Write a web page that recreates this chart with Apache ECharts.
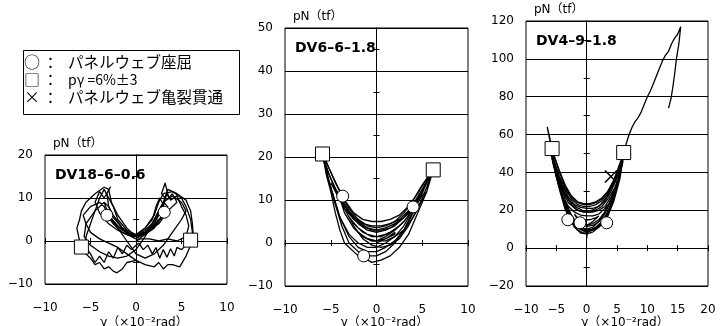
<!DOCTYPE html>
<html>
<head>
<meta charset="utf-8">
<script src="https://cdn.jsdelivr.net/npm/echarts@6/dist/echarts.min.js"></script>
<style>
  html, body { margin: 0; padding: 0; background: #fff; }
  #chart { width: 722px; height: 326px; }
</style>
</head>
<body>
<div id="chart"></div>
<script>
// ---- panel titles / labels ----
const panelNames = ['DV18\u20136\u20130.6', 'DV6\u20136\u20131.8', 'DV4\u20139\u20131.8'];
const yAxisName = 'pN\uFF08tf\uFF09';
const xAxisName = '\u03B3\uFF08\u00D710\u207B\u00B2rad\uFF09';
const legendSymbols = ['\u25CB', '\u25A1', '\u00D7'];
const legendTexts = ['パネルウェブ座屈', 'p\u03B3 =6%\u00B13', 'パネルウェブ亀裂貫通'];

// axis ranges: [min, max, label step]
const xRanges = [[-10, 10, 5], [-10, 10, 5], [-10, 20, 5]];
const yRanges = [[-10, 20, 10], [-10, 50, 10], [-20, 120, 20]];
const yZeroTicks = [5, 5, 10];

// ---- DV18-6-0.6 loops ----
const dv18Loop1 = [[0,0],[1,1.5],[2,3],[3,6],[2.5,5],[1.5,2.5],[0.5,1.2],[-0.5,1.2],[-1.5,2.5],[-2.5,4.5],[-3.3,6.3],[-2.5,4],[-1.5,2],[-0.5,1],[0,0.5]];
const dv18Loop2 = [[0,0.5],[1,2],[2,4],[2.5,6],[3,8],[3.2,10],[2.8,11],[3.2,13.5],[3.6,10],[4,11],[4.5,9],[3.5,7],[2.5,4],[1.5,2.5],[0.5,1.5],[-0.5,1.5],[-1.5,3],[-2.5,5.5],[-3,8],[-3.2,11],[-2.8,12.6],[-3.5,10],[-4,11.5],[-4.5,9],[-4,6.5],[-3,4],[-2,2.5],[-1,1.5],[0,1]];
const dv18Loop3 = [[0,1],[1,3],[2,6],[2.5,9],[3,11],[4,11.5],[5,10],[5.5,8],[6,5],[6.2,2],[6,0],[5.5,-1],[5,-2],[4.5,-1.5],[4.2,-3.5],[3.8,-1.8],[3.4,-3.8],[3,-2],[2.6,-4],[2.2,-1.5],[1.8,-3],[1.3,-1],[0.8,-2],[0.3,-0.5],[0,-1]];
const dv18Loop4 = [[0,-4.5],[1,-5.5],[2,-6],[2.5,-5],[3,-6.5],[3.5,-5.5],[4,-5.5],[4.8,-6],[5.5,-3.5],[6,-1],[6.3,1],[6.2,4],[6,7],[5.5,9.5],[4.5,11],[3.5,12],[3,9],[2.5,7],[1.8,4],[1,2],[0,1]];
const dv18Loop5 = [[0,1],[-1,3],[-2,6],[-2.7,9],[-3,12],[-3.5,12.5],[-4.5,11],[-5.5,9],[-6,7],[-6.2,5],[-6.5,3],[-6.2,0],[-6,-2.5],[-5.5,-3],[-5,-4],[-4.5,-5.5],[-4,-5],[-3.5,-6.5],[-3,-6],[-2.5,-7],[-2.1,-7.4],[-1.5,-6.5],[-1,-5],[0,-4.5]];
const dv18Loop6 = [[0,-4.5],[-1,-3],[-2,-1.5],[-3,-0.5],[-4,0.5],[-5,2],[-5.5,4],[-5.8,6],[-5,8],[-4,9],[-3.5,8],[-3,6],[-2,3],[-1,0],[0,-3],[1,-4],[2,-3],[3,-1],[4,2],[5,5],[5.5,7],[5,9],[4,10.5],[3,9],[2,5],[1,1],[0,-2],[-1,-3.5],[-2,-4],[-3,-3.5],[-4,-2.5],[-5,-1],[-5.7,1],[-5.5,4],[-4.5,7],[-3.5,9]];
const dv18Loop7 = [[0,1],[1,2.5],[2,4.5],[2.7,7],[3,9],[3.5,8],[3,6],[2,3.5],[1,2],[0,1.5],[-1,2],[-2,3.5],[-3,6],[-3.5,9],[-3,8],[-2.5,6],[-1.5,3],[-0.5,1.5],[0,1]];
const dv18Loop8 = [[0,-1],[-0.5,-2],[-1,-1],[-1.5,-3],[-2,-1.5],[-2.5,-4],[-3,-2.5],[-3.5,-5],[-4,-3.5],[-4.5,-5],[-5,-3],[-5.5,-1.5],[-5.5,1],[-5,4],[-4.5,7],[-4,10],[-3.5,12],[-3,10],[-2.5,8],[-2,5],[-1,2.5],[0,1.5]];
const dv18Loop9 = [[0,1.5],[1,3],[1.8,5],[2.2,8],[2.6,10],[3,8.5],[3.4,11],[3.8,9.5],[4.5,10.5],[5,8],[5.5,6],[5.8,3.5],[5.5,1],[4.5,0],[3.5,0.5],[2.5,0],[1.5,0.5],[0.5,0.5],[0,0]];
const dv18Loops = [dv18Loop1, dv18Loop2, dv18Loop3, dv18Loop4, dv18Loop5, dv18Loop6, dv18Loop7, dv18Loop8, dv18Loop9];
const dv18Circles = [[-3.2,6.0],[3.1,6.7]];
const dv18Squares = [[-6.0,-1.4],[6.0,0.2]];

// ---- DV6-6-1.8 loops ----
const dv6Loop1 = [[0,0],[1,1],[2,2.5],[2,2],[1,1],[0,0.5],[-1,1],[-2,2.5],[-1.5,1.5],[-0.5,0.5],[0,0.5]];
const dv6Loop2 = [[0,0.5],[1,1.5],[2,3],[3,5],[2.5,4],[1.5,2.5],[0.5,1.5],[-0.5,1.5],[-1.5,2.5],[-2.5,4.5],[-3,6],[-2,3.5],[-1,2],[0,1.5]];
const dv6Loop3 = [[0,1.5],[1,2],[2,3],[3,5],[4,8],[3.5,7],[2.5,5],[1.5,3.5],[0.5,3],[-0.5,3],[-1.5,4],[-2.5,5.5],[-3.5,8],[-4,10.5],[-3.5,7],[-2.5,3.5],[-1.5,1.5],[-0.5,0.5],[0,0.5]];
const dv6Loop4 = [[0,0.5],[1,0.5],[2,1.5],[3,3],[4,6],[5,10],[5.5,12],[5,11],[4,8],[3,6],[2,4.5],[1,3.5],[0,3],[-1,3.5],[-2,5],[-3,7.5],[-4,11],[-5,14],[-4.5,12],[-3.5,8],[-2.5,4],[-1.5,1],[-0.5,-0.5],[0.5,-1],[1.5,-0.5]];
const dv6Loop5 = [[1.5,-0.5],[2.5,1],[3.5,4],[4.5,8],[5.5,13],[6.2,17],[5.5,14],[4.5,10.5],[3.5,7.5],[2.5,5.5],[1.5,4.5],[0.5,4],[-0.5,4],[-1.5,4.5],[-2.5,6],[-3.5,8.5],[-4.5,12.5],[-5.3,16.5],[-5.9,20.7],[-5.5,16],[-5,12],[-4.5,7],[-4,3],[-3.5,0],[-2.5,-2],[-2,-3],[-1.4,-3.5],[-0.5,-4.5],[0.5,-4],[1.5,-3],[2.5,-1],[3.5,2],[4.5,7],[5.5,12],[6.2,17]];
const dv6Loop6 = [[6.2,17],[5.5,15],[4.5,11.5],[3.5,8.5],[2.5,6.5],[1.5,5.5],[0.5,5],[-0.5,5],[-1.5,5.5],[-2.5,7],[-3.5,10],[-4.5,14],[-5.5,19],[-5.9,20.7],[-5.2,14],[-4.5,9],[-3.8,4],[-3,0],[-2,-2],[-1,-3],[0,-3],[1,-2],[2,0],[3,3],[4,7.5],[5,12],[5.8,15.5]];
const dv6Loop7 = [[5.8,15.5],[5,12.5],[4,9],[3,6],[2,4],[1,3],[0,2.5],[-1,3],[-2,4.5],[-3,7],[-4,10.5],[-5,15],[-5.8,19.5],[-5,13],[-4,6],[-3,2],[-2,0],[-1,-1],[0,-1],[1,0],[2,1.5],[3,4],[4,8],[5,12.5],[6,16.5]];
const dv6Loop8 = [[6,16.5],[5,13.5],[4,10],[3,7],[2,5],[1,4],[0,3.5],[-1,4],[-2,5.5],[-3,8],[-4,12],[-5,16.5],[-5.8,20],[-5.3,15],[-4.6,10],[-4,6],[-3,1.5],[-2,-1],[-1,-2],[0,-2],[1,-1],[2,0.5],[3,3],[4,7],[5,11.5],[6,17]];
const dv6Loops = [dv6Loop1, dv6Loop2, dv6Loop3, dv6Loop4, dv6Loop5, dv6Loop6, dv6Loop7, dv6Loop8];
const dv6Circles = [[-3.7,10.9],[4.0,8.4],[-1.4,-3.0]];
const dv6Squares = [[-5.9,20.7],[6.2,17]];

// ---- DV4-9-1.8 loops ----
const dv4Loop1 = [[0,5],[0.1,8],[0,12],[1,14],[2,17],[1.5,16],[0.5,15],[-0.5,15],[-1.5,16],[-2,18],[-1.5,15],[-0.5,13],[0,12]];
const dv4Loop2 = [[0,12],[1,13],[2,15],[3,19],[3.5,23],[3,21],[2,18],[1,17],[0,17],[-1,17.5],[-2,19],[-3,22],[-3.5,25],[-3,20],[-2,15],[-1,12.5],[0,11.5]];
const dv4Loop3 = [[0,11.5],[1,12],[2,14],[3,18],[4,25],[4.5,30],[4,27],[3,22],[2,20],[1,19],[0,19],[-1,19.5],[-2,21],[-3,24],[-4,30],[-4.5,34],[-4,27],[-3,19],[-2,14],[-1,11],[0,10]];
const dv4Loop4 = [[0,10],[1,11],[2,14],[3,19],[4,26],[5,35],[4.5,31],[3.5,26],[2.5,22],[1.5,20],[0.5,19],[-0.5,19],[-1.5,20],[-2.5,23],[-3.5,28],[-4.5,35],[-5,39],[-4,28],[-3,19],[-2,13],[-1,10],[0,9]];
const dv4Loop5 = [[0,9],[1,10],[2,12],[3,16],[4,23],[5,33],[5.5,40],[5,37],[4,30],[3,25],[2,22],[1,21],[0,21],[-1,21.5],[-2,23],[-3,27],[-4,33],[-5,41],[-5.7,48],[-5,38],[-4,27],[-3,18],[-2,12.5],[-1,10],[0,8.5]];
const dv4Loop6 = [[0,8.5],[1,9.5],[2,11.5],[3,15],[4,22],[5,33],[6,46],[5.5,43],[4.5,35],[3.5,29],[2.5,25],[1.5,23],[0.5,22],[-0.5,22],[-1.5,23],[-2.5,26],[-3.5,31],[-4.5,38],[-5.5,47],[-6,52],[-5.5,44],[-4.5,32],[-3.5,22],[-2.5,15],[-1.5,11],[-0.5,9],[0.5,9]];
const dv4Loop7 = [[0.5,9],[1.5,10],[2.5,12.5],[3.5,17],[4.5,25],[5.5,37],[6,48],[5.5,44],[4.5,36],[3.5,30],[2.5,26.5],[1.5,24.5],[0.5,23.5],[-0.5,23.5],[-1.5,24.5],[-2.5,27.5],[-3.5,33],[-4.5,41],[-5.5,50],[-6,54],[-5.6,46],[-4.8,36],[-4,27],[-3,17],[-2,11],[-1,8],[0,7.5],[1,8.5]];
const dv4Loop8 = [[1,8.5],[2,11],[3,15],[4,22],[5,32],[5.8,44],[5.3,40],[4.3,33],[3.3,27],[2.3,23],[1.3,20.5],[0.3,19.5],[-0.7,20],[-1.7,21.5],[-2.7,24.5],[-3.7,30],[-4.7,38],[-5.6,49],[-5.2,40],[-4.4,30],[-3.6,21],[-2.6,14],[-1.6,10],[-0.6,8],[0.4,8]];
const dv4Loop9 = [[0.5,9.5],[1.5,11],[2.5,14],[3.5,19],[4.5,28],[5.5,40],[6.1,50.5],[5.5,45],[4.5,36],[3.5,30],[2.5,26],[1.5,24],[0.5,23],[-0.5,23],[-1.5,24],[-2.5,27],[-3.5,32],[-4.5,40],[-5.5,50],[-6.5,64],[-6,56],[-5.5,47],[-4.5,36],[-3.5,25],[-2.5,17],[-1.5,12],[-0.5,9.5],[0.5,9.5],[1.5,11],[2.5,14],[3.5,19],[4.5,28],[5.5,40],[6.5,55],[7,60],[7.5,64],[8,67],[8.5,69],[9,72],[9.5,76],[10,80],[10.5,83],[11,87],[11.5,91],[12,95],[12.5,99],[13,102],[13.5,104],[14,108],[14.5,111],[15,113],[15.5,117],[15.2,108],[14.8,100],[14.5,92],[14.2,85],[13.9,79],[13.5,74]];
const dv4Loops = [dv4Loop1, dv4Loop2, dv4Loop3, dv4Loop4, dv4Loop5, dv4Loop6, dv4Loop7, dv4Loop8, dv4Loop9];
const dv4Circles = [[-3.1,15],[-1.1,13.4],[3.3,13.4]];
const dv4Squares = [[-5.7,52.6],[6.1,50.5]];
const dv4Crosses = [[4.0,37.8]];

const panelLoops = [dv18Loops, dv6Loops, dv4Loops];
const panelCircles = [dv18Circles, dv6Circles, dv4Circles];
const panelSquares = [dv18Squares, dv6Squares, dv4Squares];
const panelCrosses = [[], [], dv4Crosses];

// ---- layout ----
const grids = [
  { left: 45, top: 155, width: 182, height: 129 },
  { left: 285, top: 28, width: 183, height: 258 },
  { left: 526, top: 21, width: 182, height: 265 }
];

const numFont = 'DejaVu Sans';
const fmt = v => (v < 0 ? '\u2212' + Math.abs(v) : String(v));

const xAxis = [], yAxis = [], series = [], graphic = [];

grids.forEach((g, i) => {
  const xr = xRanges[i], yr = yRanges[i];
  // label axes at the box edges
  xAxis.push({
    gridIndex: i, type: 'value', min: xr[0], max: xr[1], interval: xr[2],
    axisLine: { show: false, onZero: false }, axisTick: { show: false },
    splitLine: { show: false },
    axisLabel: { margin: 18, color: '#000', fontSize: 12, fontFamily: numFont, formatter: fmt }
  });
  yAxis.push({
    gridIndex: i, type: 'value', min: yr[0], max: yr[1], interval: yr[2],
    axisLine: { show: false, onZero: false }, axisTick: { show: false },
    splitLine: { show: true, lineStyle: { color: '#000', width: 1 } },
    axisLabel: { margin: 12, color: '#000', fontSize: 12, fontFamily: numFont, formatter: fmt }
  });
  // zero lines with crossing ticks (two axes each, ticks out + in)
  [false, true].forEach(inside => {
    xAxis.push({
      gridIndex: i, type: 'value', min: xr[0], max: xr[1], interval: 5, position: 'bottom',
      axisLine: { show: true, onZero: true, lineStyle: { color: '#000', width: 1 } },
      axisTick: { show: true, inside: inside, length: 3, lineStyle: { color: '#000' } },
      axisLabel: { show: false }, splitLine: { show: false }
    });
    yAxis.push({
      gridIndex: i, type: 'value', min: yr[0], max: yr[1], interval: yZeroTicks[i], position: 'left',
      axisLine: { show: true, onZero: true, lineStyle: { color: '#000', width: 1 } },
      axisTick: { show: true, inside: inside, length: 3, lineStyle: { color: '#000' } },
      axisLabel: { show: false }, splitLine: { show: false }
    });
  });

  const ax = i * 3;
  panelLoops[i].forEach(loop => {
    series.push({
      type: 'line', xAxisIndex: ax, yAxisIndex: ax, data: loop,
      showSymbol: false, symbol: 'none', silent: true, z: 3,
      lineStyle: { color: '#000', width: 1.3 }
    });
  });
  // white-filled markers: an empty symbol gives the white fill, a thin outline is drawn over it
  const markerSets = [
    [panelCircles[i], 'circle', 12],
    [panelSquares[i], 'rect', 14]
  ];
  markerSets.forEach(([pts, shape, size]) => {
    series.push({ type: 'scatter', xAxisIndex: ax, yAxisIndex: ax, data: pts,
      symbol: shape === 'circle' ? 'emptyCircle' : 'emptyRect', symbolSize: size - 2,
      itemStyle: { color: '#fff', opacity: 1 }, z: 10, silent: true, emphasis: { disabled: true } });
    series.push({ type: 'scatter', xAxisIndex: ax, yAxisIndex: ax, data: pts,
      symbol: shape, symbolSize: size,
      itemStyle: { color: 'transparent', borderColor: '#000', borderWidth: 1, opacity: 1 },
      z: 11, silent: true, emphasis: { disabled: true } });
  });
  if (panelCrosses[i].length) {
    series.push({ type: 'scatter', xAxisIndex: ax, yAxisIndex: ax, data: panelCrosses[i],
      symbol: 'path://M0,0L10,10M10,0L0,10', symbolSize: 12,
      itemStyle: { color: 'none', borderColor: '#000', borderWidth: 1.5, opacity: 1 }, z: 12, silent: true });
  }

  // texts around the panel
  graphic.push({ type: 'text', x: g.left + 10, y: g.top + 20, z: 10,
    style: { text: panelNames[i], fill: '#000', font: 'bold 14px "DejaVu Sans"', verticalAlign: 'middle' } });
  graphic.push({ type: 'text', x: g.left + 8, y: g.top - 11, z: 10,
    style: { text: yAxisName, fill: '#000', font: '12px "DejaVu Sans", "Noto Sans CJK JP"', verticalAlign: 'middle' } });
  graphic.push({ type: 'text', x: g.left + g.width / 2 + 8, y: 323, z: 10,
    style: { text: xAxisName, fill: '#000', font: '12px "DejaVu Sans", "Noto Sans CJK JP"', align: 'center', verticalAlign: 'middle' } });
});

// legend box
graphic.push({ type: 'rect', shape: { x: 23.5, y: 50.5, width: 216, height: 64 },
  style: { fill: '#fff', stroke: '#000', lineWidth: 1 }, z: 10 });
legendSymbols.forEach((s, k) => {
  const y = 62 + k * 17.5;
  graphic.push({ type: 'text', x: 24, y: y, z: 11,
    style: { text: s, fill: '#000', font: '16px "Noto Sans CJK JP"', verticalAlign: 'middle' } });
  graphic.push({ type: 'text', x: 43, y: y, z: 11,
    style: { text: '\uFF1A', fill: '#000', font: '15px "Noto Sans CJK JP"', verticalAlign: 'middle' } });
  graphic.push({ type: 'text', x: 68, y: y, z: 11,
    style: { text: legendTexts[k], fill: '#000',
      font: (k === 1 ? '14px' : '15.5px') + ' "Noto Sans CJK JP"', verticalAlign: 'middle' } });
});

const chart = echarts.init(document.getElementById('chart'), null, { renderer: 'canvas' });
chart.setOption({
  animation: false,
  backgroundColor: '#fff',
  grid: grids.map(g => Object.assign({ show: true, borderColor: '#000', borderWidth: 1, backgroundColor: 'transparent' }, g)),
  xAxis: xAxis,
  yAxis: yAxis,
  series: series,
  graphic: graphic
});
</script>
</body>
</html>
